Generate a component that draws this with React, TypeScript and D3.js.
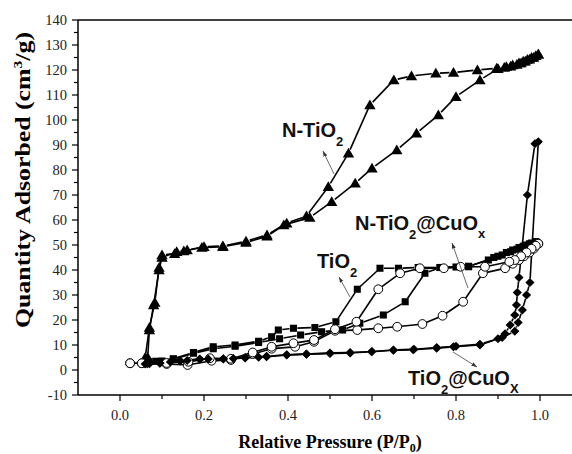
import React from 'react'
import * as d3 from 'd3'

const W = 572
const H = 454

// [P/P0, quantity adsorbed]
const nTiO2Ads = [
  [0.06, 5], [0.07, 17], [0.083, 27], [0.093, 41], [0.1, 46], [0.13, 46.5], [0.152, 47.6],
  [0.195, 49], [0.245, 49.3], [0.3, 51], [0.35, 53.5], [0.39, 58], [0.452, 61], [0.504, 67.3],
  [0.56, 74.7], [0.6, 80.7], [0.659, 88], [0.706, 94.7], [0.758, 102], [0.8, 109.3],
  [0.857, 116], [0.9, 120.5], [0.92, 121.3], [0.935, 122], [0.95, 122.8], [0.96, 123.5],
  [0.97, 124.2], [0.98, 125], [0.99, 125.7], [0.996, 126.3],
]
const nTiO2Des = [
  [0.996, 126.3], [0.985, 125], [0.975, 124.3], [0.965, 123.5], [0.955, 122.8], [0.945, 122.2],
  [0.93, 121.5], [0.915, 121], [0.897, 120.7], [0.851, 120], [0.794, 119], [0.752, 118.7],
  [0.694, 117.6], [0.652, 116], [0.595, 106], [0.544, 86.7], [0.496, 73.3], [0.444, 61.6],
  [0.397, 58.7], [0.35, 54], [0.3, 51.5], [0.245, 49.6], [0.2, 49.3], [0.16, 48],
  [0.135, 47.3], [0.1, 45], [0.093, 40], [0.08, 26], [0.07, 16], [0.066, 5],
]
const tiO2Ads = [
  [0.067, 3.3], [0.1, 3.6], [0.127, 4.3], [0.175, 6.7], [0.222, 8.5], [0.274, 9.5], [0.33, 11],
  [0.38, 12.5], [0.43, 14], [0.48, 15.3], [0.53, 16], [0.571, 18.7], [0.627, 22], [0.679, 27.3],
  [0.726, 38.7], [0.762, 41], [0.8, 41.2], [0.83, 41.5], [0.877, 44], [0.9, 45.5], [0.92, 47],
  [0.935, 48], [0.95, 49], [0.965, 50], [0.98, 50.8], [0.99, 51.3],
]
const tiO2Des = [
  [0.99, 51.3], [0.975, 50.5], [0.96, 49.5], [0.945, 48.3], [0.93, 47.3], [0.91, 46],
  [0.89, 45], [0.83, 41.3], [0.762, 41], [0.71, 41], [0.663, 40.7], [0.619, 40.7],
  [0.565, 32.3], [0.514, 19.3], [0.464, 17], [0.413, 16.7], [0.377, 16], [0.361, 13.3],
  [0.33, 11.5], [0.274, 10], [0.222, 9.3], [0.175, 7], [0.127, 4.5], [0.085, 3.5], [0.067, 3.3],
]
const nTiO2CuAds = [
  [0.024, 2.7], [0.052, 2.7], [0.111, 2.4], [0.161, 2], [0.218, 3.7], [0.264, 4], [0.316, 6.4],
  [0.361, 8.5], [0.417, 9.3], [0.462, 11.3], [0.512, 15.7], [0.565, 16], [0.615, 16.7],
  [0.66, 17.3], [0.72, 18.4], [0.768, 21.7], [0.817, 27.3], [0.864, 38.7], [0.917, 40.7],
  [0.935, 42.5], [0.95, 44], [0.962, 45.5], [0.975, 47], [0.985, 48.5], [0.996, 50.5],
]
const nTiO2CuDes = [
  [0.996, 50.5], [0.99, 49.7], [0.98, 48.5], [0.968, 47], [0.955, 45.5], [0.94, 44],
  [0.927, 43.3], [0.869, 41.3], [0.811, 41.3], [0.771, 40.7], [0.714, 40.7], [0.667, 38.7],
  [0.615, 32.3], [0.563, 19.3], [0.512, 16.3], [0.462, 12], [0.413, 10.7], [0.361, 9.3],
  [0.316, 7], [0.264, 4.5], [0.214, 4.7], [0.163, 3.3], [0.111, 2.8], [0.052, 2.7], [0.024, 2.7],
]
const tiO2CuAds = [
  [0.06, 2.4], [0.07, 2.5], [0.095, 2.7], [0.12, 3.2], [0.143, 3.6], [0.16, 3.8], [0.19, 4.3],
  [0.21, 4.4], [0.246, 4.4], [0.27, 4.6], [0.298, 4.8], [0.33, 5.1], [0.349, 5.3], [0.397, 6],
  [0.444, 6.3], [0.5, 6.6], [0.548, 6.8], [0.599, 7.3], [0.651, 7.9], [0.698, 8.1],
  [0.754, 8.7], [0.794, 9.3], [0.857, 10], [0.9, 12.5], [0.917, 14.5], [0.929, 18], [0.94, 22],
  [0.944, 26], [0.946, 31], [0.95, 37], [0.97, 70], [0.988, 90.5],
]
const tiO2CuDes = [
  [0.996, 91.3], [0.976, 35], [0.968, 30], [0.958, 24], [0.948, 19], [0.94, 15.5], [0.91, 13],
  [0.857, 10.3], [0.8, 9.5], [0.754, 9], [0.7, 8.3], [0.651, 8], [0.6, 7.4], [0.548, 7],
  [0.5, 6.8], [0.444, 6.4], [0.397, 6.1], [0.349, 5.5], [0.298, 5], [0.246, 4.5], [0.19, 4.4],
  [0.143, 3.7], [0.095, 2.8], [0.065, 2.5],
]

const xTicks = [0, 0.1, 0.2, 0.3, 0.4, 0.5, 0.6, 0.7, 0.8, 0.9, 1.0]
const xTickLabels = ['0.0', '0.2', '0.4', '0.6', '0.8', '1.0']
const yTicks = [-10, 0, 10, 20, 30, 40, 50, 60, 70, 80, 90, 100, 110, 120, 130, 140]

const series = [
  { name: 'N-TiO2', ads: nTiO2Ads, des: nTiO2Des, symbol: 'triangle' },
  { name: 'TiO2', ads: tiO2Ads, des: tiO2Des, symbol: 'square' },
  { name: 'N-TiO2@CuOx', ads: nTiO2CuAds, des: nTiO2CuDes, symbol: 'circle' },
  { name: 'TiO2@CuOx', ads: tiO2CuAds, des: tiO2CuDes, symbol: 'diamond' },
]

const serif = '"Liberation Serif", "Times New Roman", serif'
const sans = '"Liberation Sans", Arial, sans-serif'

//line pieces that stop short of each symbol, like Origin draws them
function gapSegments(pts: number[][], gap: number) {
  const segs: number[][] = []
  for (let i = 1; i < pts.length; i++) {
    const [x1, y1] = pts[i - 1]
    const [x2, y2] = pts[i]
    const dx = x2 - x1
    const dy = y2 - y1
    const d = Math.hypot(dx, dy)
    if (d <= 2 * gap + 0.5) continue
    const ux = dx / d
    const uy = dy / d
    segs.push([x1 + ux * gap, y1 + uy * gap, x2 - ux * gap, y2 - uy * gap])
  }
  return segs
}

const triPath = d3.symbol(d3.symbolTriangle, 56)()
const sqPath = d3.symbol(d3.symbolSquare, 50)()
const diaPath = d3.symbol(d3.symbolSquare, 42)()

function Marker({ kind, x, y }: { kind: string; x: number; y: number }) {
  if (kind === 'circle')
    return <circle cx={x} cy={y} r={4.4} fill="#fff" stroke="#000" strokeWidth={1} />
  if (kind === 'triangle')
    return <path d={triPath || ''} transform={`translate(${x},${y + 1})`} fill="#000" />
  if (kind === 'square') return <path d={sqPath || ''} transform={`translate(${x},${y})`} fill="#000" />
  return <path d={diaPath || ''} transform={`translate(${x},${y}) rotate(45)`} fill="#000" />
}

export default function App() {
  const x = d3.scaleLinear().domain([-0.1, 1.1]).range([78, 582])
  const y = d3.scaleLinear().domain([-10, 140]).range([395, 20])
  const left = x(-0.1)
  const bottom = y(-10)
  const top = y(140)

  const arrows = [
    [334, 174, 323, 151],
    [350, 297, 339, 277],
    [468, 288, 452, 243],
    [453, 352, 477, 367],
  ]

  return (
    <svg
      width={W}
      height={H}
      style={{ position: 'absolute', left: 0, top: 0, background: '#fff' }}
    >
      <defs>
        <marker id="ah" viewBox="0 0 10 10" refX="10" refY="5" markerWidth="7" markerHeight="7" orient="auto">
          <path d="M0,1.5L10,5L0,8.5z" fill="#333" />
        </marker>
      </defs>
      <rect width={W} height={H} fill="#fff" />

      {/* data lines */}
      {series.map((s) =>
        [s.ads, s.des].map((arr, k) => {
          const pts = arr.map((d) => [x(d[0]), y(d[1])])
          return gapSegments(pts, 4).map((g, i) => (
            <line
              key={`${s.name}-${k}-${i}`}
              x1={g[0]}
              y1={g[1]}
              x2={g[2]}
              y2={g[3]}
              stroke="#000"
              strokeWidth={1.6}
            />
          ))
        })
      )}

      {/* symbols */}
      {series.map((s) =>
        [...s.ads, ...s.des].map((d, i) => (
          <Marker key={`${s.name}-m${i}`} kind={s.symbol} x={x(d[0])} y={y(d[1])} />
        ))
      )}

      {/* frame */}
      <line x1={left} y1={top} x2={W + 10} y2={top} stroke="#000" strokeWidth={1.5} />
      <line x1={left} y1={bottom} x2={W + 10} y2={bottom} stroke="#000" strokeWidth={1.5} />
      <line x1={left} y1={top} x2={left} y2={bottom} stroke="#000" strokeWidth={1.5} />

      {/* x ticks */}
      {xTicks.map((t, i) => (
        <line
          key={`xt${i}`}
          x1={x(t)}
          x2={x(t)}
          y1={bottom}
          y2={bottom + (i % 2 === 0 ? 6 : 4)}
          stroke="#000"
          strokeWidth={1.2}
        />
      ))}
      {xTickLabels.map((l) => (
        <text
          key={`xl${l}`}
          x={x(+l)}
          y={420}
          textAnchor="middle"
          fontFamily={serif}
          fontSize={14.5}
          fill="#222"
        >
          {l}
        </text>
      ))}

      {/* y ticks */}
      {yTicks.map((t) => (
        <g key={`yt${t}`}>
          <line x1={left - 6} x2={left} y1={y(t)} y2={y(t)} stroke="#000" strokeWidth={1.2} />
          {t < 140 && (
            <line x1={left - 4} x2={left} y1={y(t + 5)} y2={y(t + 5)} stroke="#000" strokeWidth={1.2} />
          )}
          <text
            x={left - 11}
            y={y(t) + 5}
            textAnchor="end"
            fontFamily={serif}
            fontSize={14.5}
            fill="#222"
          >
            {t}
          </text>
        </g>
      ))}

      {/* axis titles */}
      <text
        transform="translate(30,180) rotate(-90)"
        textAnchor="middle"
        fontFamily={serif}
        fontWeight="bold"
        fontSize={20}
        textLength={296}
        lengthAdjust="spacingAndGlyphs"
      >
        Quantity Adsorbed (cm<tspan dy={-8} fontSize={12}>3</tspan>
        <tspan dy={8}>/g)</tspan>
      </text>
      <text x={330} y={448} textAnchor="middle" fontFamily={serif} fontWeight="bold" fontSize={18}>
        Relative Pressure (P/P<tspan dy={4} fontSize={12}>0</tspan>
        <tspan dy={-4}>)</tspan>
      </text>

      {/* annotations */}
      {arrows.map((a, i) => (
        <line
          key={`ar${i}`}
          x1={a[0]}
          y1={a[1]}
          x2={a[2]}
          y2={a[3]}
          stroke="#444"
          strokeWidth={0.8}
          markerEnd="url(#ah)"
        />
      ))}
      <g fontFamily={sans} fontWeight="bold" fill="#111">
        <text x={282} y={137} fontSize={20}>
          N-TiO<tspan dy={9} fontSize={13}>2</tspan>
        </text>
        <text x={317} y={268} fontSize={20}>
          TiO<tspan dy={9} fontSize={13}>2</tspan>
        </text>
        <text x={355} y={230} fontSize={20}>
          N-TiO<tspan dy={9} fontSize={13}>2</tspan>
          <tspan dy={-9}>@CuO</tspan>
          <tspan dy={8} fontSize={13}>x</tspan>
        </text>
        <text x={408} y={385} fontSize={20}>
          TiO<tspan dy={9} fontSize={13}>2</tspan>
          <tspan dy={-9}>@CuO</tspan>
          <tspan dy={8} fontSize={13}>X</tspan>
        </text>
      </g>
    </svg>
  )
}
